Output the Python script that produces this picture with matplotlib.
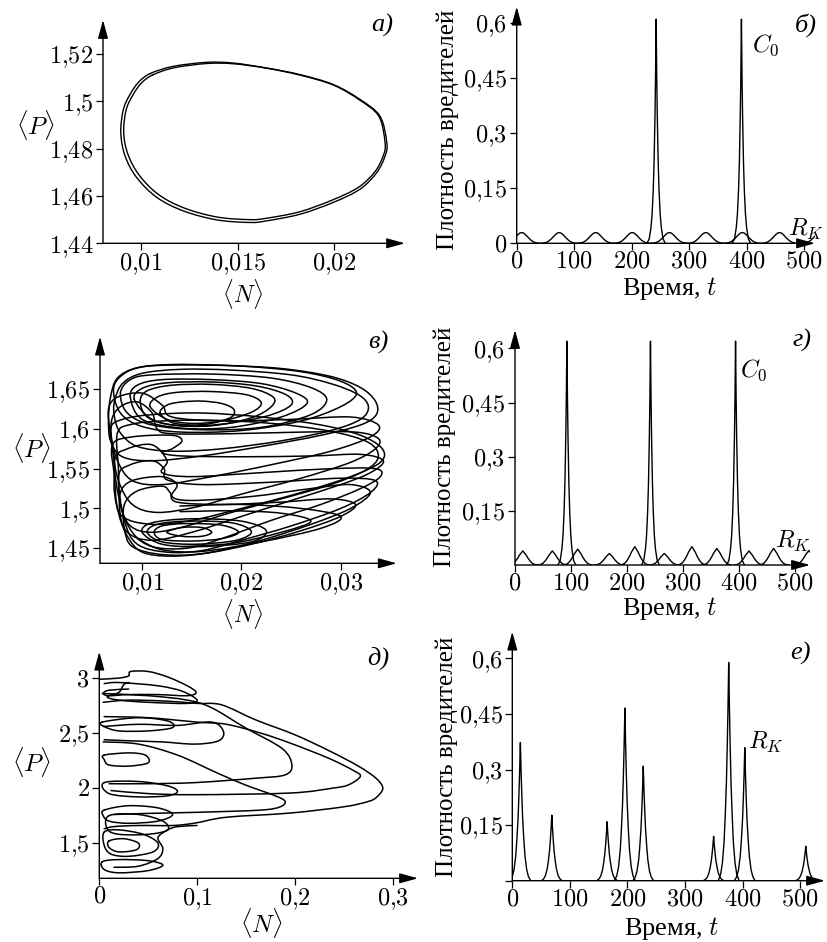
import matplotlib
matplotlib.use('Agg')
import matplotlib.pyplot as plt
from matplotlib.path import Path
from matplotlib.patches import PathPatch
import numpy as np

plt.rcParams['mathtext.fontset'] = 'cm'
plt.rcParams['font.family'] = ['Liberation Serif', 'DejaVu Serif']

# ---------------- данные ----------------

# а) предельный цикл (две близкие петли)
loop_a_outer = [(0.01050, 1.5118), (0.01168, 1.5148), (0.01341, 1.5165), (0.01478, 1.5162),
                (0.01651, 1.5141), (0.01823, 1.5113), (0.01995, 1.5071), (0.02133, 1.5008),
                (0.02236, 1.4937), (0.02271, 1.4825), (0.02262, 1.4769), (0.02219, 1.4699),
                (0.02133, 1.4629), (0.01995, 1.4573), (0.01823, 1.4523), (0.01651, 1.4495),
                (0.01565, 1.4488), (0.01393, 1.4499), (0.01220, 1.4537), (0.01083, 1.4594),
                (0.00979, 1.4678), (0.00919, 1.4769), (0.00897, 1.4867), (0.00910, 1.4965),
                (0.00945, 1.5030), (0.00990, 1.5082), (0.01050, 1.5118)]
loop_a_inner = [(0.01060, 1.5111), (0.01172, 1.5142), (0.01341, 1.5160), (0.01478, 1.5159),
                (0.01651, 1.5140), (0.01823, 1.5111), (0.01995, 1.5069), (0.02130, 1.5006),
                (0.02230, 1.4937), (0.02262, 1.4825), (0.02253, 1.4771), (0.02210, 1.4703),
                (0.02125, 1.4637), (0.01990, 1.4583), (0.01820, 1.4533), (0.01650, 1.4506),
                (0.01565, 1.4500), (0.01395, 1.4511), (0.01225, 1.4549), (0.01092, 1.4606),
                (0.00992, 1.4688), (0.00934, 1.4776), (0.00912, 1.4867), (0.00924, 1.4962),
                (0.00958, 1.5025), (0.01002, 1.5076), (0.01060, 1.5111)]

# б) временной ряд
b_rk_t = [8.7, 73.9, 137.4, 201, 265.7, 329, 392.6, 457.3, 528]
b_rk_h = [0.029, 0.029, 0.029, 0.029, 0.029, 0.029, 0.029, 0.029, 0.029]
b_c0_t = [242.6, 391]
b_c0_h = [0.61, 0.61]

# в) хаотический аттрактор
loops_c = [
    [(0.0118, 1.620), (0.0125, 1.630), (0.014, 1.634), (0.016, 1.635), (0.018, 1.632),
     (0.0192, 1.625), (0.019, 1.615), (0.017, 1.607), (0.015, 1.605), (0.013, 1.608), (0.0118, 1.620)],
    [(0.0108, 1.628), (0.0115, 1.640), (0.0135, 1.646), (0.017, 1.647), (0.0205, 1.643),
     (0.022, 1.633), (0.021, 1.621), (0.018, 1.610), (0.015, 1.607), (0.0125, 1.612), (0.0108, 1.628)],
    [(0.0098, 1.635), (0.0105, 1.648), (0.013, 1.655), (0.017, 1.656), (0.021, 1.651),
     (0.0232, 1.640), (0.023, 1.628), (0.021, 1.614), (0.017, 1.604), (0.013, 1.605),
     (0.0105, 1.615), (0.0098, 1.635)],
    [(0.0092, 1.637), (0.010, 1.651), (0.0125, 1.658), (0.017, 1.659), (0.0215, 1.654),
     (0.0245, 1.643), (0.025, 1.630), (0.0225, 1.616), (0.018, 1.606), (0.014, 1.604),
     (0.011, 1.612), (0.0092, 1.637)],
    [(0.0088, 1.640), (0.0095, 1.655), (0.012, 1.662), (0.017, 1.662), (0.022, 1.657),
     (0.0255, 1.645), (0.0266, 1.632), (0.024, 1.615), (0.019, 1.602), (0.014, 1.601),
     (0.010, 1.612), (0.0088, 1.640)],
    [(0.0078, 1.645), (0.0088, 1.662), (0.011, 1.668), (0.017, 1.669), (0.023, 1.664),
     (0.027, 1.652), (0.0286, 1.637), (0.027, 1.618), (0.022, 1.602), (0.016, 1.599),
     (0.011, 1.605), (0.0085, 1.620), (0.0078, 1.645)],
    [(0.0071, 1.650), (0.008, 1.668), (0.010, 1.678), (0.014, 1.6805), (0.020, 1.679),
     (0.026, 1.672), (0.030, 1.660), (0.0316, 1.645), (0.030, 1.628), (0.026, 1.610),
     (0.020, 1.598), (0.014, 1.596), (0.010, 1.603), (0.0078, 1.620), (0.0071, 1.650)],
    [(0.0068, 1.640), (0.0075, 1.664), (0.0095, 1.677), (0.013, 1.681), (0.018, 1.680),
     (0.024, 1.676), (0.029, 1.666), (0.032, 1.652), (0.0335, 1.635), (0.0336, 1.618),
     (0.032, 1.605), (0.028, 1.592), (0.022, 1.578), (0.016, 1.566), (0.011, 1.560),
     (0.008, 1.565), (0.0068, 1.585), (0.0066, 1.612), (0.0068, 1.640)],
    [(0.0072, 1.635), (0.008, 1.657), (0.010, 1.670), (0.014, 1.675), (0.019, 1.674),
     (0.025, 1.668), (0.029, 1.657), (0.0318, 1.643), (0.0328, 1.628), (0.032, 1.612),
     (0.029, 1.598), (0.024, 1.585), (0.018, 1.575), (0.013, 1.572), (0.0095, 1.578),
     (0.0078, 1.595), (0.0072, 1.615), (0.0072, 1.635)],
    [(0.0068, 1.600), (0.008, 1.612), (0.011, 1.618), (0.016, 1.620), (0.022, 1.615),
     (0.028, 1.605), (0.032, 1.592), (0.0342, 1.575), (0.034, 1.558), (0.031, 1.540),
     (0.026, 1.520), (0.020, 1.500), (0.015, 1.485), (0.011, 1.480), (0.008, 1.490),
     (0.0072, 1.520), (0.0072, 1.560), (0.0068, 1.600)],
    [(0.0075, 1.595), (0.009, 1.606), (0.012, 1.610), (0.017, 1.611), (0.023, 1.607),
     (0.029, 1.597), (0.0328, 1.583), (0.0338, 1.565), (0.0325, 1.548), (0.029, 1.530),
     (0.024, 1.512), (0.019, 1.495), (0.0145, 1.478), (0.011, 1.470), (0.0088, 1.478),
     (0.0078, 1.505), (0.0076, 1.550), (0.0075, 1.595)],
    [(0.0069, 1.610), (0.0078, 1.628), (0.0095, 1.634), (0.011, 1.620), (0.0115, 1.600),
     (0.013, 1.594), (0.019, 1.594), (0.026, 1.596), (0.0315, 1.596), (0.0338, 1.588),
     (0.0335, 1.575), (0.031, 1.558), (0.026, 1.538), (0.020, 1.518), (0.0155, 1.502),
     (0.0115, 1.495), (0.009, 1.505), (0.0076, 1.535), (0.0070, 1.575), (0.0069, 1.610)],
    [(0.0070, 1.580), (0.009, 1.590), (0.013, 1.592), (0.014, 1.585), (0.013, 1.575),
     (0.012, 1.570), (0.014, 1.566), (0.020, 1.565), (0.027, 1.566), (0.032, 1.568),
     (0.0343, 1.560), (0.033, 1.545), (0.030, 1.530), (0.025, 1.510), (0.020, 1.490),
     (0.015, 1.470), (0.011, 1.460), (0.0085, 1.470), (0.0075, 1.500), (0.0072, 1.540),
     (0.0070, 1.580)],
    [(0.0066, 1.625), (0.0075, 1.640), (0.010, 1.645), (0.012, 1.630), (0.013, 1.615),
     (0.018, 1.610), (0.025, 1.612), (0.031, 1.615), (0.0338, 1.605), (0.033, 1.590),
     (0.029, 1.572), (0.023, 1.555), (0.017, 1.540), (0.012, 1.530), (0.009, 1.535),
     (0.0075, 1.560), (0.0068, 1.595), (0.0066, 1.625)],
    [(0.0072, 1.560), (0.0085, 1.575), (0.011, 1.580), (0.0125, 1.560), (0.012, 1.545),
     (0.015, 1.540), (0.022, 1.545), (0.029, 1.550), (0.0335, 1.550), (0.034, 1.540),
     (0.032, 1.525), (0.028, 1.505), (0.023, 1.485), (0.018, 1.462), (0.0145, 1.450),
     (0.011, 1.452), (0.009, 1.470), (0.0078, 1.505), (0.0072, 1.560)],
    [(0.0076, 1.540), (0.0088, 1.555), (0.011, 1.560), (0.0122, 1.550), (0.0125, 1.536),
     (0.016, 1.530), (0.023, 1.533), (0.030, 1.538), (0.0335, 1.535), (0.033, 1.520),
     (0.030, 1.500), (0.025, 1.478), (0.020, 1.460), (0.016, 1.447), (0.0125, 1.445),
     (0.0095, 1.455), (0.0082, 1.485), (0.0076, 1.540)],
    [(0.0078, 1.520), (0.009, 1.535), (0.012, 1.540), (0.0135, 1.530), (0.013, 1.515),
     (0.015, 1.510), (0.021, 1.515), (0.027, 1.525), (0.031, 1.530), (0.033, 1.520),
     (0.031, 1.500), (0.027, 1.480), (0.022, 1.460), (0.017, 1.445), (0.013, 1.440),
     (0.010, 1.445), (0.0085, 1.465), (0.0078, 1.490), (0.0078, 1.520)],
    [(0.0082, 1.505), (0.0095, 1.522), (0.012, 1.528), (0.0128, 1.520), (0.0135, 1.508),
     (0.018, 1.505), (0.024, 1.508), (0.029, 1.512), (0.0315, 1.505), (0.030, 1.490),
     (0.026, 1.472), (0.021, 1.455), (0.016, 1.443), (0.012, 1.442), (0.009, 1.452),
     (0.0082, 1.475), (0.0082, 1.505)],
    [(0.0138, 1.503), (0.020, 1.505), (0.026, 1.500), (0.030, 1.490), (0.028, 1.475),
     (0.022, 1.458), (0.016, 1.446), (0.012, 1.448), (0.0095, 1.462)],
    [(0.0138, 1.496), (0.019, 1.497), (0.024, 1.494), (0.027, 1.484), (0.024, 1.470),
     (0.019, 1.456), (0.014, 1.452)],
    [(0.0100, 1.470), (0.011, 1.482), (0.015, 1.487), (0.020, 1.484), (0.0225, 1.472),
     (0.021, 1.458), (0.016, 1.452), (0.012, 1.455), (0.0100, 1.470)],
    [(0.0105, 1.470), (0.0115, 1.480), (0.0145, 1.484), (0.019, 1.482), (0.021, 1.471),
     (0.0195, 1.460), (0.0155, 1.455), (0.012, 1.458), (0.0105, 1.470)],
    [(0.0112, 1.470), (0.012, 1.478), (0.0145, 1.481), (0.018, 1.479), (0.0197, 1.470),
     (0.018, 1.462), (0.015, 1.459), (0.012, 1.461), (0.0112, 1.470)],
    [(0.0125, 1.470), (0.014, 1.476), (0.016, 1.476), (0.017, 1.470), (0.016, 1.465),
     (0.014, 1.465), (0.0125, 1.470)],
]

# г) временной ряд
d_rk_t = [14, 66.7, 112, 168.5, 214, 266.7, 316, 360.6, 418, 462, 525]
d_rk_h = [0.039, 0.039, 0.044, 0.032, 0.051, 0.032, 0.051, 0.046, 0.039, 0.046, 0.040]
d_c0_t = [92.7, 242, 394]
d_c0_h = [0.62, 0.62, 0.62]

# д) хаотический аттрактор
loops_e = [
    [(0.004, 2.78), (0.03, 2.80), (0.07, 2.79), (0.10, 2.77), (0.125, 2.757), (0.16, 2.62),
     (0.20, 2.485), (0.235, 2.34), (0.265, 2.20), (0.283, 2.09), (0.290, 2.00), (0.284, 1.92),
     (0.275, 1.878), (0.25, 1.83), (0.195, 1.773), (0.13, 1.735), (0.098, 1.682),
     (0.075, 1.66), (0.04, 1.66), (0.015, 1.65), (0.005, 1.63)],
    [(0.005, 2.65), (0.05, 2.64), (0.10, 2.60), (0.13, 2.58), (0.165, 2.50), (0.195, 2.41),
     (0.235, 2.27), (0.26, 2.16), (0.267, 2.106), (0.255, 2.03), (0.239, 2.0), (0.195, 1.955),
     (0.098, 1.94), (0.05, 1.95), (0.012, 1.978)],
    [(0.004, 2.42), (0.04, 2.40), (0.08, 2.30), (0.12, 2.14), (0.149, 2.03), (0.18, 1.93),
     (0.19, 1.88), (0.185, 1.83), (0.165, 1.80), (0.10, 1.78), (0.05, 1.77), (0.015, 1.76)],
    [(0.003, 2.86), (0.05, 2.84), (0.09, 2.80), (0.115, 2.73), (0.149, 2.55), (0.187, 2.36),
     (0.197, 2.21), (0.19, 2.12), (0.16, 2.09), (0.098, 2.05), (0.05, 2.04), (0.01, 2.04)],
    [(0.004, 2.56), (0.04, 2.58), (0.08, 2.57), (0.115, 2.60), (0.127, 2.515), (0.122, 2.43),
     (0.098, 2.40), (0.064, 2.42), (0.03, 2.43), (0.005, 2.44)],
    [(0.001, 2.99), (0.02, 3.00), (0.03, 3.02), (0.032, 3.06), (0.05, 3.06), (0.07, 3.01),
     (0.09, 2.93), (0.099, 2.87), (0.09, 2.84), (0.06, 2.85), (0.03, 2.85), (0.01, 2.84),
     (0.004, 2.86), (0.01, 2.89), (0.03, 2.90)],
    [(0.005, 2.95), (0.02, 2.96), (0.06, 2.93), (0.085, 2.88), (0.10, 2.80), (0.09, 2.77),
     (0.05, 2.78), (0.02, 2.80), (0.008, 2.83), (0.02, 2.87), (0.025, 2.94), (0.03, 2.96)],
    [(0.003, 2.60), (0.04, 2.64), (0.07, 2.61), (0.075, 2.55), (0.05, 2.52), (0.02, 2.52),
     (0.005, 2.56), (0.003, 2.60)],
    [(0.005, 2.30), (0.03, 2.32), (0.047, 2.30), (0.05, 2.23), (0.03, 2.20), (0.01, 2.21),
     (0.005, 2.26), (0.005, 2.30)],
    [(0.005, 2.05), (0.04, 2.06), (0.07, 2.02), (0.08, 1.97), (0.07, 1.93), (0.04, 1.92),
     (0.01, 1.95), (0.005, 2.05)],
    [(0.005, 1.80), (0.03, 1.84), (0.06, 1.82), (0.075, 1.76), (0.06, 1.70), (0.03, 1.68),
     (0.01, 1.70), (0.004, 1.75), (0.005, 1.80)],
    [(0.01, 1.75), (0.04, 1.76), (0.065, 1.70), (0.07, 1.62), (0.05, 1.58), (0.02, 1.58),
     (0.008, 1.63), (0.01, 1.75)],
    [(0.005, 1.60), (0.02, 1.62), (0.045, 1.58), (0.06, 1.50), (0.055, 1.42), (0.03, 1.38),
     (0.012, 1.40), (0.005, 1.48), (0.005, 1.60)],
    [(0.01, 1.52), (0.025, 1.54), (0.04, 1.50), (0.038, 1.44), (0.02, 1.42), (0.01, 1.46),
     (0.01, 1.52)],
    [(0.003, 1.33), (0.02, 1.35), (0.05, 1.34), (0.065, 1.30), (0.05, 1.25), (0.02, 1.23),
     (0.005, 1.26), (0.003, 1.33)],
    [(0.015, 1.28), (0.04, 1.29), (0.06, 1.36), (0.065, 1.45), (0.06, 1.55), (0.07, 1.62),
     (0.08, 1.65), (0.10, 1.66)],
]

# е) временной ряд
f_rk_t = [14, 68.6, 164.6, 195.5, 227.4, 349.6, 375.8, 403.7, 509.6]
f_rk_h = [0.373, 0.177, 0.159, 0.466, 0.309, 0.120, 0.589, 0.359, 0.093]

# форма всплесков
bump_dt = [-32, -26, -20, -14, -9, -4, 0, 4, 9, 14, 20, 26, 32]
bump_fr = [0, 0.04, 0.15, 0.40, 0.68, 0.93, 1, 0.93, 0.68, 0.40, 0.15, 0.04, 0]
cusp_dt = [-26, -21, -17, -13, -9, -6, -3, 0, 3, 6, 9, 13, 17, 21, 26]
cusp_fr = [0, 0.04, 0.12, 0.28, 0.50, 0.70, 0.85, 1, 0.85, 0.70, 0.50, 0.28, 0.12, 0.04, 0]
spike_dt = [-16, -12, -9, -7, -5, -3.5, -2, -1, 0, 1, 2, 3.5, 5, 7, 9, 12, 16]
spike_fr = [0, 0.02, 0.07, 0.13, 0.24, 0.37, 0.57, 0.75, 1, 0.75, 0.57, 0.37, 0.24, 0.13, 0.07, 0.02, 0]
spike2_dt = [-18, -14, -11, -8, -6, -4, -2.5, -1.2, 0, 1.2, 2.5, 4, 6, 8, 11, 14, 18]
spike2_fr = [0, 0.03, 0.08, 0.18, 0.30, 0.45, 0.62, 0.80, 1, 0.80, 0.62, 0.45, 0.30, 0.18, 0.08, 0.03, 0]

# ---------------- рисунок ----------------
W, H = 827, 942
fig = plt.figure(figsize=(W / 100, H / 100), dpi=100)
LW = 1.0
TS = 17.5
LS = 18


def make_axes(x0, y0, x1, y1):
    return fig.add_axes([x0 / W, 1 - y1 / H, (x1 - x0) / W, (y1 - y0) / H])


def style(ax, xt, xl, yt, yl):
    for s in ax.spines.values():
        s.set_visible(False)
    arr = dict(arrowstyle='-|>,head_length=0.8,head_width=0.22', lw=1.0, color='k',
               shrinkA=0, shrinkB=0, mutation_scale=14)
    ax.annotate('', xy=(1, 0), xytext=(0, 0), xycoords='axes fraction', arrowprops=arr)
    ax.annotate('', xy=(0, 1), xytext=(0, 0), xycoords='axes fraction', arrowprops=arr)
    ax.set_xticks(xt)
    ax.set_xticklabels(['$' + s + '$' for s in xl])
    ax.set_yticks(yt)
    ax.set_yticklabels(['$' + s + '$' if s else '' for s in yl])
    ax.tick_params(direction='out', length=5, width=0.9, labelsize=TS, pad=2)
    ax.tick_params(axis='x', pad=1)


def ftext(x, y, s, **kw):
    fig.text(x / W, 1 - y / H, s, ha='center', va='center', **kw)


def smooth_line(ax, pts, lw):
    # гладкая кривая через снятые точки (кубические сегменты Безье)
    p = np.array(pts, dtype=float)
    n = len(p)
    closed = np.allclose(p[0], p[-1])
    verts = [p[0]]
    codes = [Path.MOVETO]
    for i in range(n - 1):
        if i > 0:
            p0 = p[i - 1]
        else:
            p0 = p[-2] if closed else p[0]
        if i + 2 < n:
            p3 = p[i + 2]
        else:
            p3 = p[1] if closed else p[-1]
        p1, p2 = p[i], p[i + 1]
        verts += [p1 + (p2 - p0) / 6, p2 - (p3 - p1) / 6, p2]
        codes += [Path.CURVE4] * 3
    ax.add_patch(PathPatch(Path(verts, codes), fill=False, edgecolor='k', lw=lw,
                           joinstyle='round', capstyle='round'))


def draw_loops(ax, loops, lw=1.1):
    for lp in loops:
        smooth_line(ax, lp, lw)


def draw_peaks(ax, ts, hs, dt, fr, smooth=False):
    dt = np.array(dt)
    fr = np.array(fr)
    for t0, h in zip(ts, hs):
        if smooth:
            smooth_line(ax, list(zip(t0 + dt, h * fr)), LW)
        else:
            ax.plot(t0 + dt, h * fr, color='k', lw=LW, solid_joinstyle='round')


# а)
ax = make_axes(103, 20, 405, 243.3)
draw_loops(ax, [loop_a_outer, loop_a_inner], lw=1.0)
ax.set_xlim(0.00805, 0.02365)
ax.set_ylim(1.44, 1.5344)
style(ax, [0.01, 0.015, 0.02], ['0{,}01', '0{,}015', '0{,}02'],
      [1.44, 1.46, 1.48, 1.50, 1.52], ['1{,}44', '1{,}46', '1{,}48', '1{,}5', '1{,}52'])
ftext(36, 125, r'$\langle P\rangle$', fontsize=LS)
ftext(242, 294, r'$\langle N\rangle$', fontsize=17)
ftext(382, 25, 'а)', fontsize=19, style='italic')

# б)
ax = make_axes(516.7, 6.7, 815, 243.3)
draw_peaks(ax, b_rk_t, b_rk_h, bump_dt, bump_fr, smooth=True)
draw_peaks(ax, b_c0_t, b_c0_h, spike_dt, spike_fr)
ax.set_xlim(0, 519)
ax.set_ylim(0, 0.644)
style(ax, [0, 100, 200, 300, 400, 500], ['0', '100', '200', '300', '400', '500'],
      [0, 0.15, 0.3, 0.45, 0.6], ['0', '0{,}15', '0{,}3', '0{,}45', '0{,}6'])
ax.text(409, 0.54, r'$C_0$', fontsize=TS, va='center')
ax.text(472, 0.038, r'$R_K$', fontsize=TS, va='center')
ftext(448, 130, 'Плотность вредителей', fontsize=LS, rotation=90)
ftext(670, 289, r'Время, $t$', fontsize=19)
ftext(806, 25, 'б)', fontsize=19, style='italic')

# в)
ax = make_axes(100, 336.7, 396.7, 563.3)
draw_loops(ax, loops_c)
ax.set_xlim(0.00574, 0.03565)
ax.set_ylim(1.431, 1.716)
style(ax, [0.01, 0.02, 0.03], ['0{,}01', '0{,}02', '0{,}03'],
      [1.45, 1.5, 1.55, 1.6, 1.65], ['1{,}45', '1{,}5', '1{,}55', '1{,}6', '1{,}65'])
ftext(32, 448, r'$\langle P\rangle$', fontsize=LS)
ftext(242, 614, r'$\langle N\rangle$', fontsize=17)
ftext(378, 342, 'в)', fontsize=19, style='italic')

# г)
ax = make_axes(515, 330, 810, 565)
draw_peaks(ax, d_rk_t, d_rk_h, cusp_dt, cusp_fr)
draw_peaks(ax, d_c0_t, d_c0_h, spike_dt, spike_fr)
ax.set_xlim(0, 527)
ax.set_ylim(0, 0.651)
style(ax, [0, 100, 200, 300, 400, 500], ['0', '100', '200', '300', '400', '500'],
      [0.15, 0.3, 0.45, 0.6], ['0{,}15', '0{,}3', '0{,}45', '0{,}6'])
ax.text(402, 0.54, r'$C_0$', fontsize=TS, va='center')
ax.text(464, 0.065, r'$R_K$', fontsize=TS, va='center')
ftext(445, 447, 'Плотность вредителей', fontsize=LS, rotation=90)
ftext(670, 609, r'Время, $t$', fontsize=19)
ftext(802, 340, 'г)', fontsize=19, style='italic')

# д)
ax = make_axes(99.3, 651.7, 418, 878.3)
draw_loops(ax, loops_e)
ax.set_xlim(0, 0.326)
ax.set_ylim(1.18, 3.24)
style(ax, [0, 0.1, 0.2, 0.3], ['0', '0{,}1', '0{,}2', '0{,}3'],
      [1.5, 2, 2.5, 3], ['1{,}5', '2', '2{,}5', '3'])
ftext(32, 762, r'$\langle P\rangle$', fontsize=LS)
ftext(262, 923, r'$\langle N\rangle$', fontsize=LS)
ftext(378, 658, 'д)', fontsize=19, style='italic')

# е)
ax = make_axes(512.3, 631.7, 825, 880.7)
draw_peaks(ax, f_rk_t, f_rk_h, spike2_dt, spike2_fr)
ax.set_xlim(0, 543)
ax.set_ylim(0, 0.672)
style(ax, [0, 100, 200, 300, 400, 500], ['0', '100', '200', '300', '400', '500'],
      [0, 0.15, 0.3, 0.45, 0.6], ['', '0{,}15', '0{,}3', '0{,}45', '0{,}6'])
ax.text(410, 0.374, r'$R_K$', fontsize=TS, va='center')
ftext(447, 757, 'Плотность вредителей', fontsize=LS, rotation=90)
ftext(672, 928, r'Время, $t$', fontsize=19)
ftext(800, 653, 'е)', fontsize=19, style='italic')

fig.savefig('out.png', dpi=100)
